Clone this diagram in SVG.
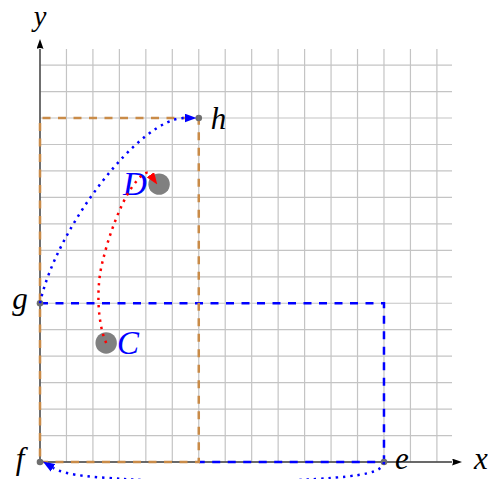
<svg xmlns="http://www.w3.org/2000/svg" width="488" height="479" viewBox="0 0 488 479">
<style>
.grid line{stroke:#c4c4c4;stroke-width:1.2}
.axis{stroke:#404040;stroke-width:1.4;fill:none}
.lbl{font-family:"Liberation Serif","DejaVu Serif",serif;font-style:italic;font-size:31px;fill:#000;text-anchor:middle}
.big{font-size:33px;fill:#0000ff}
.bdash{stroke:#0000ff;stroke-width:2.5;fill:none;stroke-dasharray:8 7.5}
.odash{stroke:#c98b48;stroke-width:2.5;fill:none;stroke-dasharray:8 7.5}
.bdot{stroke:#0000ff;stroke-width:2.5;fill:none;stroke-dasharray:2.4 4.9}
.rdot{stroke:#ff0000;stroke-width:2.5;fill:none;stroke-dasharray:2.4 4.9}
.pt{fill:#6e6e6e}
.disc{fill:#808080}
</style>
<defs>
<marker id="axarr" markerUnits="userSpaceOnUse" viewBox="0 0 10 7" markerWidth="10" markerHeight="7" refX="0" refY="3.5" orient="auto"><path d="M0,0 L10,3.5 L0,7 Q2,3.5 0,0 z" fill="#000"/></marker>
<marker id="barr" markerUnits="userSpaceOnUse" viewBox="0 0 12 9" markerWidth="12" markerHeight="9" refX="0" refY="4.5" orient="auto"><path d="M0,0 L12,4.5 L0,9 z" fill="#0000ff"/></marker>
<marker id="rarr" markerUnits="userSpaceOnUse" viewBox="0 0 12 9" markerWidth="12" markerHeight="9" refX="0" refY="4.5" orient="auto"><path d="M0,0 L12,4.5 L0,9 z" fill="#ff0000"/></marker>
</defs>
<g class="grid" id="grid">
<line x1="40" y1="49" x2="40" y2="462"/><line x1="66.46" y1="49" x2="66.46" y2="462"/><line x1="92.92" y1="49" x2="92.92" y2="462"/><line x1="119.38" y1="49" x2="119.38" y2="462"/><line x1="145.84" y1="49" x2="145.84" y2="462"/><line x1="172.3" y1="49" x2="172.3" y2="462"/><line x1="198.76" y1="49" x2="198.76" y2="462"/><line x1="225.22" y1="49" x2="225.22" y2="462"/><line x1="251.68" y1="49" x2="251.68" y2="462"/><line x1="278.14" y1="49" x2="278.14" y2="462"/><line x1="304.6" y1="49" x2="304.6" y2="462"/><line x1="331.06" y1="49" x2="331.06" y2="462"/><line x1="357.52" y1="49" x2="357.52" y2="462"/><line x1="383.98" y1="49" x2="383.98" y2="462"/><line x1="410.44" y1="49" x2="410.44" y2="462"/><line x1="436.9" y1="49" x2="436.9" y2="462"/>
<line x1="40" y1="462" x2="452" y2="462"/><line x1="40" y1="435.54" x2="452" y2="435.54"/><line x1="40" y1="409.08" x2="452" y2="409.08"/><line x1="40" y1="382.62" x2="452" y2="382.62"/><line x1="40" y1="356.16" x2="452" y2="356.16"/><line x1="40" y1="329.7" x2="452" y2="329.7"/><line x1="40" y1="303.24" x2="452" y2="303.24"/><line x1="40" y1="276.78" x2="452" y2="276.78"/><line x1="40" y1="250.32" x2="452" y2="250.32"/><line x1="40" y1="223.86" x2="452" y2="223.86"/><line x1="40" y1="197.4" x2="452" y2="197.4"/><line x1="40" y1="170.94" x2="452" y2="170.94"/><line x1="40" y1="144.48" x2="452" y2="144.48"/><line x1="40" y1="118.02" x2="452" y2="118.02"/><line x1="40" y1="91.56" x2="452" y2="91.56"/><line x1="40" y1="65.1" x2="452" y2="65.1"/>
</g>
<g id="axes">
<path class="axis" d="M40,462 H452" marker-end="url(#axarr)"/>
<path class="axis" d="M40,462 V49" marker-end="url(#axarr)"/>
<text class="lbl" x="481" y="469">x</text>
<text class="lbl" x="40" y="25.5" style="font-size:28.5px">y</text>
</g>
<g id="rect-blue"><path class="bdash" d="M40,303.24 H383.98 V462 H199"/></g>
<g id="rect-orange"><path class="odash" d="M40,462 H198.76 V118.02 H40 Z"/></g>
<g id="node-C"><circle class="disc" cx="106.15" cy="342.93" r="10.7"/><text class="lbl big" x="128" y="354">C</text></g>
<g id="node-D"><circle class="disc" cx="159.07" cy="184.17" r="10.7"/><text class="lbl big" x="135" y="195">D</text></g>
<g id="node-e"><circle class="pt" cx="383.98" cy="462" r="3.3"/><text class="lbl" x="402" y="469">e</text></g>
<g id="node-f"><circle class="pt" cx="40" cy="462" r="3.3"/><text class="lbl" x="20" y="469">f</text></g>
<g id="node-g"><circle class="pt" cx="40" cy="303.24" r="3.3"/><text class="lbl" x="20" y="308.5">g</text></g>
<g id="node-h"><circle class="pt" cx="198.76" cy="118.02" r="3.3"/><text class="lbl" x="218.5" y="129">h</text></g>
<g id="connectors">
<path class="bdot" d="M40,303.24 C56,228 140,118 184.5,118" marker-end="url(#barr)"/>
<path class="rdot" d="M106.15,342.93 C97,322 96,285 103,260 C107,243 114,222 122,205 C128,192 136,180 143,174.5 C146,172 148.5,172 150.4,174.7" marker-end="url(#rarr)"/>
<path class="bdot" d="M383.98,462 C383,472 365,476 316,479 C260,482.5 180,482.5 124,479 C100,477.5 66,476 53,467.8" marker-end="url(#barr)"/>
</g>
</svg>
